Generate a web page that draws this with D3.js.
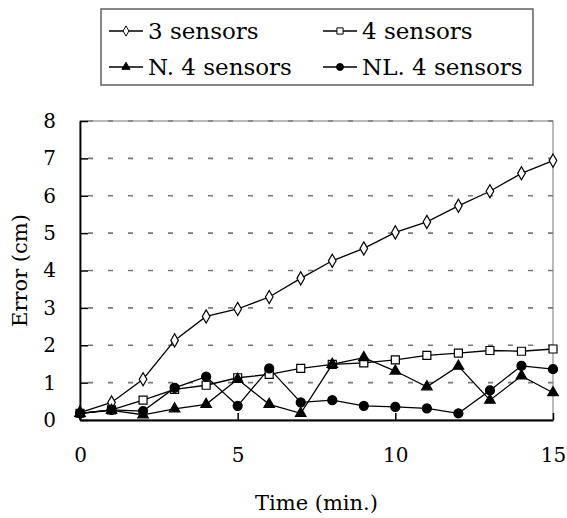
<!DOCTYPE html>
<html>
<head>
<meta charset="utf-8">
<script src="https://cdn.jsdelivr.net/npm/d3@7"></script>
<style>
html,body{margin:0;padding:0;background:#fff;}
svg{display:block;}
text{font-family:"DejaVu Serif",serif;fill:#000;}
</style>
</head>
<body>
<svg id="chart" width="567" height="518"></svg>
<script>
const times = [0,1,2,3,4,5,6,7,8,9,10,11,12,13,14,15];
const seriesNames = ["3 sensors","4 sensors","N. 4 sensors","NL. 4 sensors"];
const threeSensors = [0.2,0.47,1.09,2.13,2.77,2.97,3.29,3.79,4.26,4.59,5.02,5.3,5.73,6.12,6.6,6.94];
const fourSensors  = [0.18,0.27,0.53,0.82,0.93,1.13,1.22,1.38,1.49,1.53,1.61,1.73,1.79,1.86,1.84,1.9];
const nFourSensors = [0.18,0.26,0.14,0.3,0.42,1.09,0.42,0.18,1.49,1.67,1.31,0.89,1.44,0.53,1.18,0.73];
const nlFourSensors= [0.18,0.27,0.24,0.86,1.16,0.38,1.38,0.47,0.53,0.38,0.35,0.31,0.18,0.79,1.45,1.36];
const xTicks = [0,5,10,15];
const yTicks = [0,1,2,3,4,5,6,7,8];
const xTitle = "Time (min.)";
const yTitle = "Error (cm)";

const svg = d3.select("#chart");
const L = 80, R = 553, T = 121, B = 420;
const x = d3.scaleLinear().domain([0,15]).range([L,R]);
const y = d3.scaleLinear().domain([0,8]).range([B,T]);

// plot border (gray)
svg.append("rect").attr("x",L).attr("y",T).attr("width",R-L).attr("height",B-T)
  .attr("fill","none").attr("stroke","#8c8c8c").attr("stroke-width",1.2);

// dashed gridlines
svg.append("g").selectAll("line").data(yTicks.filter(d=>d>0)).join("line")
  .attr("x1",L).attr("x2",R).attr("y1",d=>y(d)).attr("y2",d=>y(d))
  .attr("stroke","#7a7a7a").attr("stroke-width",1.6).attr("stroke-dasharray","5,15")
  .attr("stroke-dashoffset",-8);

// y axis (ticks inward)
const yAxis = d3.axisLeft(y).tickValues(yTicks).tickSizeInner(-8).tickSizeOuter(0).tickPadding(24).tickFormat(d3.format("d"));
const gy = svg.append("g").attr("transform",`translate(${L},0)`).call(yAxis);
gy.select(".domain").attr("stroke","#000").attr("stroke-width",1.8);
gy.selectAll(".tick line").attr("stroke","#000").attr("stroke-width",1.5);
gy.selectAll(".tick text").attr("font-size",20).attr("font-family","DejaVu Serif").attr("fill","#000");

// x axis (ticks inward)
const xAxis = d3.axisBottom(x).tickValues(xTicks).tickSizeInner(-7).tickSizeOuter(0).tickPadding(28).tickFormat(d3.format("d"));
const gx = svg.append("g").attr("transform",`translate(0,${B})`).call(xAxis);
gx.select(".domain").attr("stroke","#000").attr("stroke-width",1.8);
gx.selectAll(".tick line").attr("stroke","#000").attr("stroke-width",1.5);
gx.selectAll(".tick text").attr("font-size",20).attr("font-family","DejaVu Serif").attr("fill","#000");

// titles
svg.append("text").attr("x",(L+R)/2).attr("y",510).attr("text-anchor","middle").attr("font-size",21).text(xTitle);
svg.append("text").attr("transform",`translate(27,${(T+B)/2}) rotate(-90)`).attr("text-anchor","middle").attr("font-size",21).text(yTitle);

// markers
const markerDefs = [
  {type:d3.symbolDiamond, size:50, fill:"#fff"},
  {type:d3.symbolSquare, size:64, fill:"#fff"},
  {type:d3.symbolTriangle, size:48, fill:"#000"},
  {type:d3.symbolCircle, size:64, fill:"#000"}
];
const allSeries = [threeSensors, fourSensors, nFourSensors, nlFourSensors];
const line = d3.line().x((d,i)=>x(times[i])).y(d=>y(d));

allSeries.forEach((vals,si)=>{
  svg.append("path").datum(vals).attr("d",line).attr("fill","none").attr("stroke","#000").attr("stroke-width",1.3);
});
allSeries.forEach((vals,si)=>{
  const m = markerDefs[si];
  svg.append("g").selectAll("path").data(vals).join("path")
    .attr("d",d3.symbol().type(m.type).size(m.size))
    .attr("transform",(d,i)=>`translate(${x(times[i])},${y(d)})`)
    .attr("fill",m.fill).attr("stroke","#000").attr("stroke-width",1.2);
});

// legend
svg.append("rect").attr("x",101).attr("y",9).attr("width",432).attr("height",76)
  .attr("fill","#fff").attr("stroke","#555").attr("stroke-width",1.4);
const legPos = [[109,31],[323,31],[109,67],[323,67]];
seriesNames.forEach((name,si)=>{
  const [lx,ly] = legPos[si];
  const g = svg.append("g");
  g.append("line").attr("x1",lx).attr("x2",lx+34).attr("y1",ly).attr("y2",ly).attr("stroke","#000").attr("stroke-width",1.3);
  const m = markerDefs[si];
  g.append("path").attr("d",d3.symbol().type(m.type).size(m.size*0.6))
    .attr("transform",`translate(${lx+17},${ly})`).attr("fill",m.fill).attr("stroke","#000").attr("stroke-width",1);
  g.append("text").attr("x",lx+39).attr("y",ly+8).attr("font-size",23).text(name);
});
</script>
</body>
</html>
